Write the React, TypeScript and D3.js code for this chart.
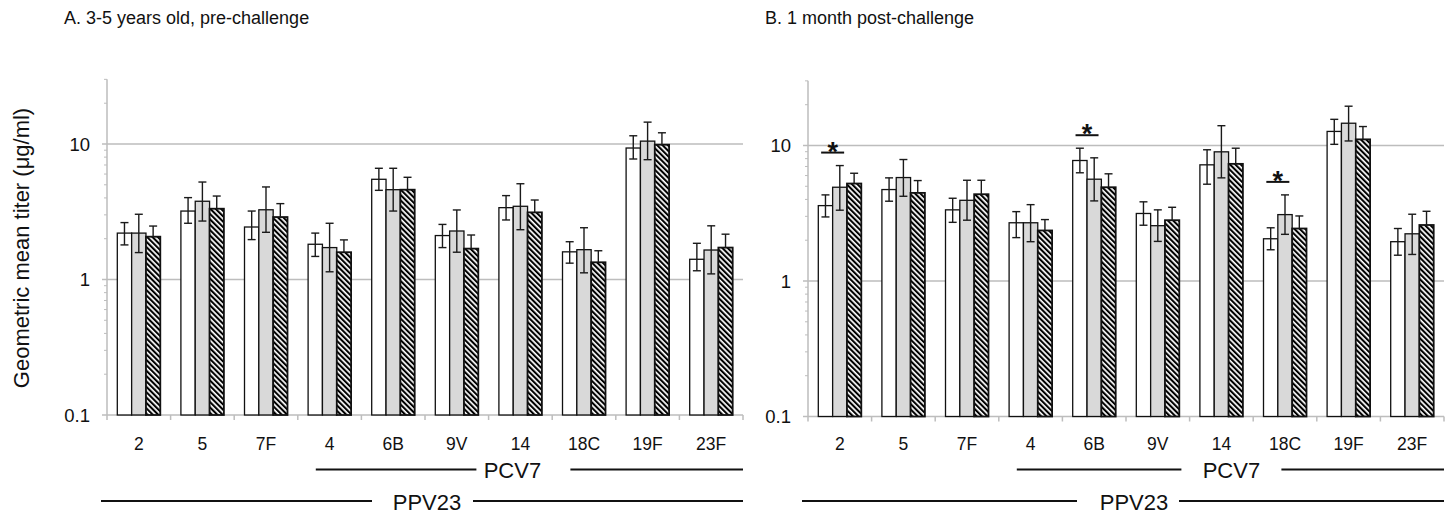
import * as d3 from "d3";

// serotypes on the x axis
const categories = ["2", "5", "7F", "4", "6B", "9V", "14", "18C", "19F", "23F"];
const seriesNames = ["white", "grey", "hatched"];

// A. 3-5 years old, pre-challenge
const preWhite = [2.2, 3.2, 2.44, 1.82, 5.49, 2.11, 3.39, 1.6, 9.34, 1.41];
const preWhiteHi = [2.63, 4.02, 3.2, 2.2, 6.62, 2.55, 4.16, 1.9, 11.5, 1.85];
const preWhiteLo = [1.8, 2.6, 1.97, 1.48, 4.55, 1.72, 2.75, 1.32, 7.75, 1.16];
const preGrey = [2.2, 3.78, 3.27, 1.72, 4.6, 2.28, 3.47, 1.66, 10.5, 1.65];
const preGreyHi = [3.03, 5.24, 4.82, 2.6, 6.62, 3.26, 5.09, 2.41, 14.5, 2.49];
const preGreyLo = [1.58, 2.7, 2.23, 1.14, 3.2, 1.59, 2.33, 1.12, 7.66, 1.1];
const preHatch = [2.07, 3.33, 2.89, 1.59, 4.6, 1.69, 3.13, 1.34, 9.88, 1.72];
const preHatchHi = [2.48, 4.13, 3.63, 1.96, 5.68, 2.13, 3.86, 1.63, 12.1, 2.16];

// B. 1 month post-challenge
const postWhite = [3.6, 4.73, 3.35, 2.69, 7.75, 3.15, 7.2, 2.05, 12.7, 1.95];
const postWhiteHi = [4.32, 5.77, 4.08, 3.25, 9.55, 3.84, 9.3, 2.47, 15.6, 2.44];
const postWhiteLo = [2.97, 3.88, 2.71, 2.09, 6.29, 2.58, 5.18, 1.7, 10.2, 1.55];
const postGrey = [4.92, 5.8, 3.94, 2.69, 5.64, 2.56, 8.98, 3.09, 14.6, 2.23];
const postGreyHi = [7.11, 7.88, 5.54, 3.66, 8.11, 3.35, 14.0, 4.32, 19.5, 3.11];
const postGreyLo = [3.33, 4.22, 2.81, 1.95, 3.9, 1.96, 5.77, 2.21, 10.8, 1.57];
const postHatch = [5.24, 4.47, 4.37, 2.36, 4.92, 2.81, 7.32, 2.44, 11.1, 2.59];
const postHatchHi = [6.24, 5.51, 5.54, 2.84, 6.18, 3.5, 9.55, 3.02, 13.8, 3.27];
const postStars = ["2", "6B", "18C"];

const yTicks = [0.1, 1, 10];
const pcv7From = "4";

const FONT = "'Liberation Sans', Arial, Helvetica, sans-serif";
const GRID = "#bdbdbd";

type PanelProps = {
  id: string;
  title: string;
  left: number;
  right: number;
  bottom: number;
  means: number[][];
  highs: number[][];
  lows: (number[] | null)[];
  stars: string[];
  pcvShift: number; // label offset from the centre of the PCV7 span
  pcvGap: [number, number];
  ppvShift: number;
  ppvGap: [number, number];
};

function Panel(p: PanelProps) {
  const { id, title, left, right, bottom, means, highs, lows, stars } = p;
  const y = d3.scaleLog().domain([0.1, 30]).range([bottom, bottom - 135.5 * Math.log10(300)]);
  const x0 = d3.scaleBand().domain(categories).range([left, right]);
  const bw = x0.bandwidth();
  const groupW = bw * 0.676;
  const off = (bw - groupW) / 2;
  const x1 = d3.scaleBand().domain(seriesNames).range([0, groupW]);
  const minor = y.ticks().filter((t) => Math.abs(Math.log10(t) - Math.round(Math.log10(t))) > 1e-6);
  const fills = ["#ffffff", "#d9d9d9", `url(#hatch-${id})`];
  const cap = 4;

  const pcvStart = x0(pcv7From)!;
  const pcvMid = (pcvStart + right) / 2 + p.pcvShift;
  const ppvMid = (left + right) / 2 + p.ppvShift;

  return (
    <g>
      <defs>
        <pattern id={`hatch-${id}`} patternUnits="userSpaceOnUse" width={3.8} height={3.8} patternTransform="rotate(-45)">
          <rect width={3.8} height={3.8} fill="#fff" />
          <rect width={2.1} height={3.8} fill="#000" />
        </pattern>
      </defs>
      <text x={left - 43} y={24} fontSize={18} fontFamily={FONT} fill="#111">{title}</text>

      {/* gridlines */}
      {yTicks.slice(1).map((t) => (
        <line key={t} x1={left} x2={right} y1={y(t)} y2={y(t)} stroke={GRID} strokeWidth={1.5} />
      ))}
      {/* y axis */}
      <line x1={left} x2={left} y1={y(30)} y2={bottom} stroke={GRID} strokeWidth={1.5} />
      {yTicks.map((t) => (
        <g key={t}>
          <line x1={left - 5} x2={left} y1={y(t)} y2={y(t)} stroke={GRID} strokeWidth={1.5} />
          <text x={left - 17} y={y(t)} dy="0.36em" textAnchor="end" fontSize={18.5} fontFamily={FONT} fill="#111">
            {d3.format("~g")(t)}
          </text>
        </g>
      ))}
      {minor.map((t) => (
        <line key={t} x1={left - 3} x2={left} y1={y(t)} y2={y(t)} stroke={GRID} strokeWidth={1} />
      ))}
      {/* x axis */}
      <line x1={left} x2={right} y1={bottom} y2={bottom} stroke={GRID} strokeWidth={1.5} />
      {categories.concat(["end"]).map((c, i) => (
        <line key={c} x1={left + i * bw} x2={left + i * bw} y1={bottom} y2={bottom + 5} stroke={GRID} strokeWidth={1.5} />
      ))}
      {categories.map((c) => (
        <text key={c} x={x0(c)! + bw / 2} y={450} textAnchor="middle" fontSize={17.5} fontFamily={FONT} fill="#111">
          {c}
        </text>
      ))}

      {/* bars */}
      {categories.map((c, ci) =>
        seriesNames.map((s, si) => {
          const bx = x0(c)! + off + x1(s)!;
          const v = means[si][ci];
          return (
            <rect key={c + s} x={bx} y={y(v)} width={x1.bandwidth()} height={bottom - y(v)}
              fill={fills[si]} stroke="#111" strokeWidth={si === 2 ? 1.8 : 1.3} />
          );
        })
      )}
      {/* error bars */}
      {categories.map((c, ci) =>
        seriesNames.map((s, si) => {
          const cx = x0(c)! + off + x1(s)! + x1.bandwidth() / 2;
          const hi = y(highs[si][ci]);
          const lo = lows[si] ? y(lows[si]![ci]) : y(means[si][ci]);
          return (
            <g key={c + s} stroke="#1a1a1a" strokeWidth={1.4}>
              <line x1={cx} x2={cx} y1={hi} y2={lo} />
              <line x1={cx - cap} x2={cx + cap} y1={hi} y2={hi} />
              {lows[si] && <line x1={cx - cap} x2={cx + cap} y1={lo} y2={lo} />}
            </g>
          );
        })
      )}
      {/* significance */}
      {stars.map((c) => {
        const ci = categories.indexOf(c);
        const cx = x0(c)! + off + x1.bandwidth();
        const ly = Math.min(y(highs[0][ci]), y(highs[1][ci])) - 13;
        return (
          <g key={c}>
            <line x1={cx - 11.5} x2={cx + 11.5} y1={ly} y2={ly} stroke="#111" strokeWidth={2} />
            <text x={cx} y={ly + 8} textAnchor="middle" fontSize={27} fontWeight="bold" fontFamily={FONT} fill="#111">*</text>
          </g>
        );
      })}

      {/* vaccine coverage brackets */}
      <g stroke="#111" strokeWidth={2}>
        <line x1={pcvStart + 18} x2={pcvMid - p.pcvGap[0]} y1={469.5} y2={469.5} />
        <line x1={pcvMid + p.pcvGap[1]} x2={right} y1={469.5} y2={469.5} />
        <line x1={left - 6} x2={ppvMid - p.ppvGap[0]} y1={501} y2={501} />
        <line x1={ppvMid + p.ppvGap[1]} x2={right} y1={501} y2={501} />
      </g>
      <text x={pcvMid} y={478} textAnchor="middle" fontSize={22} fontFamily={FONT} fill="#111">PCV7</text>
      <text x={ppvMid} y={510} textAnchor="middle" fontSize={22} fontFamily={FONT} fill="#111">PPV23</text>
    </g>
  );
}

export default function App() {
  return (
    <svg width={1456} height={516} style={{ position: "absolute", left: 0, top: 0, background: "#fff" }}>
      <rect width={1456} height={516} fill="#fff" />
      <text transform="translate(21,248) rotate(-90)" textAnchor="middle" dy="0.35em" fontSize={22} fontFamily={FONT} fill="#111">
        Geometric mean titer (μg/ml)
      </text>
      <Panel
        id="a"
        title="A. 3-5 years old, pre-challenge"
        left={107}
        right={743}
        bottom={415}
        means={[preWhite, preGrey, preHatch]}
        highs={[preWhiteHi, preGreyHi, preHatchHi]}
        lows={[preWhiteLo, preGreyLo, null]}
        stars={[]}
        pcvShift={-8}
        pcvGap={[36, 58]}
        ppvShift={2}
        ppvGap={[55, 46]}
      />
      <Panel
        id="b"
        title="B. 1 month post-challenge"
        left={808}
        right={1444}
        bottom={416.5}
        means={[postWhite, postGrey, postHatch]}
        highs={[postWhiteHi, postGreyHi, postHatchHi]}
        lows={[postWhiteLo, postGreyLo, null]}
        stars={postStars}
        pcvShift={10}
        pcvGap={[50, 50]}
        ppvShift={8}
        ppvGap={[57, 45]}
      />
    </svg>
  );
}
